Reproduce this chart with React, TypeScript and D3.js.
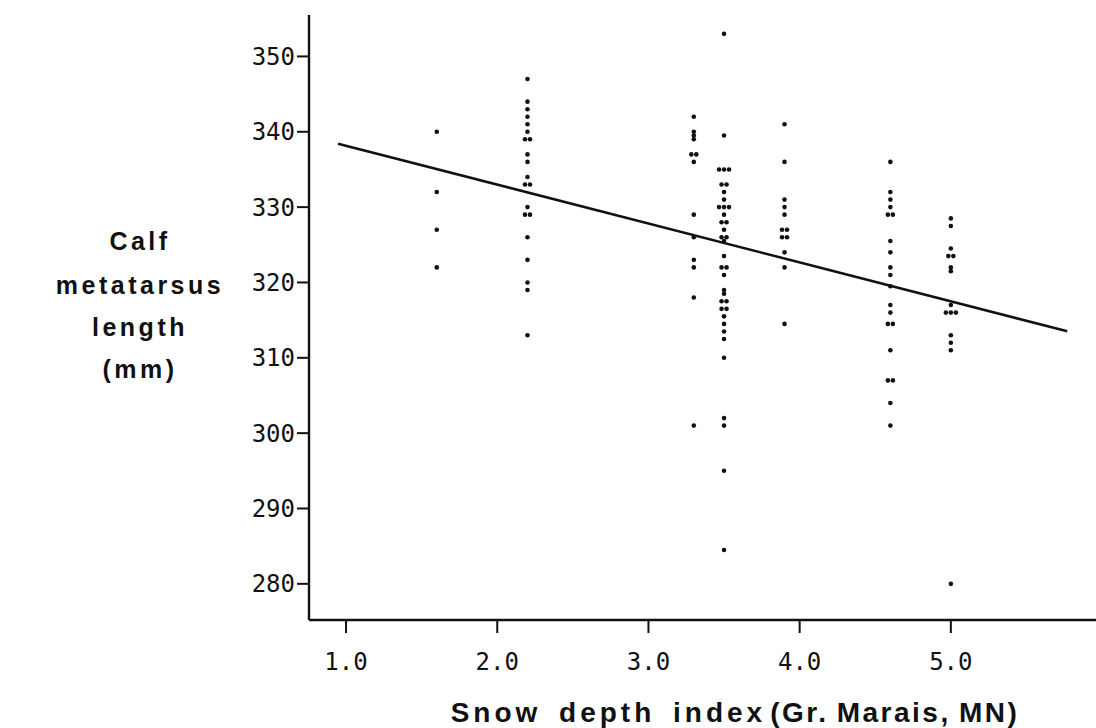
import React from "react";
import * as d3 from "d3";

// Snow depth index columns and calf metatarsus lengths (mm)
const snowIndex = [1.6, 2.2, 3.3, 3.5, 3.9, 4.6, 5.0];
const len16 = [340, 332, 327, 322];
const len22 = [347, 344, 343, 342, 341, 340, 339, 339, 337, 336, 334, 333, 333, 330, 329, 329, 326, 323, 320, 319, 313];
const len33 = [342, 340, 339.5, 339, 337, 337, 336, 329, 326, 323, 322, 318, 301];
const len35 = [353, 339.5, 335, 335, 335, 333, 333, 332, 331, 330, 330, 330, 329, 328, 328, 327, 326, 326, 325.5, 323.5, 322, 322, 321, 319, 318.5, 317.5, 317.5, 316.5, 316.5, 315.5, 314.5, 313.5, 312.5, 310, 302, 301, 295, 284.5];
const len39 = [341, 336, 331, 330, 329, 327, 327, 326, 326, 324, 322, 314.5];
const len46 = [336, 332, 331, 330, 329, 329, 325.5, 324, 322, 321, 319.5, 317, 316, 314.5, 314.5, 311, 307, 307, 304, 301];
const len50 = [328.5, 327.5, 324.5, 323.5, 323.5, 322, 321.5, 317, 316, 316, 316, 313, 312, 311, 280];
const lengths = [len16, len22, len33, len35, len39, len46, len50];

// regression line: length = intercept + slope * index
const regIntercept = 343.3;
const regSlope = -5.16;
const regRange = [0.947, 5.77];

const xTicks = [1, 2, 3, 4, 5];
const yTicks = [280, 290, 300, 310, 320, 330, 340, 350];
const xDomain = [0.755, 5.96];
const yDomain = [275.2, 355.5];

const yLabelLines = ["Calf", "metatarsus", "length", "(mm)"];
const xTitleMain = "Snow depth index";
const xTitleSub = "(Gr. Marais, MN)";

export default function App() {
  const W = 1096, H = 728;
  const left = 309, right = 1096, top = 15, bottom = 620;
  const x = d3.scaleLinear().domain(xDomain).range([left, right]);
  const y = d3.scaleLinear().domain(yDomain).range([bottom, top]);
  const fmt = d3.format(".1f");
  const line = d3.line<number>().x((d) => x(d)).y((d) => y(regIntercept + regSlope * d));

  const dots: { cx: number; cy: number; key: string }[] = [];
  snowIndex.forEach((s, ci) => {
    const groups = d3.group(lengths[ci], (v) => v);
    groups.forEach((arr, v) => {
      arr.forEach((_, i) => {
        dots.push({
          cx: x(s) + (i - (arr.length - 1) / 2) * 5,
          cy: y(v),
          key: `${ci}-${v}-${i}`,
        });
      });
    });
  });

  const labelYs = [241, 285, 327, 369];

  return (
    <svg width={W} height={H} style={{ position: "absolute", left: 0, top: 0, background: "#fff" }}>
      <rect width={W} height={H} fill="#fff" />
      {/* axes */}
      <line x1={left} x2={left} y1={top} y2={bottom} stroke="#111" strokeWidth={2.4} />
      <line x1={left} x2={right} y1={bottom} y2={bottom} stroke="#111" strokeWidth={2.4} />
      {yTicks.map((t) => (
        <g key={t}>
          <line x1={left - 12} x2={left} y1={y(t)} y2={y(t)} stroke="#111" strokeWidth={2} />
          <text x={left - 14} y={y(t)} dy="0.36em" textAnchor="end" fontFamily="DejaVu Sans Mono" fontSize={24} fill="#111">
            {t}
          </text>
        </g>
      ))}
      {xTicks.map((t) => (
        <g key={t}>
          <line x1={x(t)} x2={x(t)} y1={bottom} y2={bottom + 13} stroke="#111" strokeWidth={2} />
          <text x={x(t)} y={670} textAnchor="middle" fontFamily="DejaVu Sans Mono" fontSize={24} fill="#111">
            {fmt(t)}
          </text>
        </g>
      ))}
      {/* regression line */}
      <path d={line(regRange) || ""} fill="none" stroke="#111" strokeWidth={2.6} />
      {/* points */}
      {dots.map((d) => (
        <circle key={d.key} cx={d.cx} cy={d.cy} r={2.3} fill="#111" />
      ))}
      {/* y label */}
      {yLabelLines.map((l, i) => (
        <text key={l} x={140} y={labelYs[i]} dy="0.36em" textAnchor="middle" fontFamily="Liberation Sans" fontWeight="bold" fontSize={25} letterSpacing={3.5} fill="#111">
          {l}
        </text>
      ))}
      {/* x title */}
      <text x={735} y={722} textAnchor="middle" fontFamily="Liberation Sans" fontWeight="bold" fontSize={28} letterSpacing={4} fill="#111">
        <tspan wordSpacing={6}>{xTitleMain}</tspan>
        <tspan dx={4} letterSpacing={2.5} wordSpacing={-2}>{xTitleSub}</tspan>
      </text>
    </svg>
  );
}
